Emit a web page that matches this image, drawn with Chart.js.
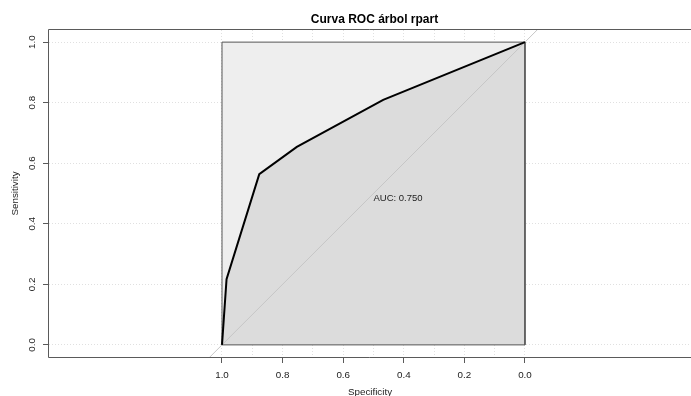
<!DOCTYPE html>
<html>
<head>
<meta charset="utf-8">
<script src="https://cdn.jsdelivr.net/npm/chart.js@4/dist/chart.umd.min.js"></script>
<style>
html,body{margin:0;padding:0;background:#fff;}
#wrap{width:691px;height:396px;}
</style>
</head>
<body>
<div id="wrap"><canvas id="c" width="691" height="396"></canvas></div>
<script>
// ---- data ----
const chartTitle = 'Curva ROC árbol rpart';
const xAxisTitle = 'Specificity';
const yAxisTitle = 'Sensitivity';
const aucText = 'AUC: 0.750';
const specificity = [1.0, 0.985, 0.877, 0.753, 0.468, 0.0];
const sensitivity = [0.0, 0.217, 0.564, 0.654, 0.809, 1.0];
const maxAucSpec = [1, 1, 0, 0, 1];
const maxAucSens = [0, 1, 1, 0, 0];
const identitySpec = [1.2, -0.2];
const identitySens = [-0.2, 1.2];
const xGridValues = [1.0, 0.9, 0.8, 0.7, 0.6, 0.5, 0.4, 0.3, 0.2, 0.1, 0.0];
const xTickValues = [1.0, 0.8, 0.6, 0.4, 0.2, 0.0];
const yTickValues = [0.0, 0.2, 0.4, 0.6, 0.8, 1.0];
const aucLabelAt = [0.5, 0.5];

const FONT = "'Liberation Sans', Arial, Helvetica, sans-serif";
const pts = (xs, ys) => xs.map((v, i) => ({x: v, y: ys[i]}));
const isLabelled = v => xTickValues.some(t => Math.abs(t - v) < 1e-6);

const extras = {
  id: 'extras',
  afterDraw(chart) {
    const {ctx, chartArea: a, scales: {x, y}} = chart;
    ctx.save();
    // frame (box)
    ctx.strokeStyle = '#5a5a5a';
    ctx.lineWidth = 1;
    ctx.setLineDash([]);
    ctx.beginPath();
    ctx.moveTo(a.left - 0.5, a.bottom + 0.5);
    ctx.lineTo(a.left - 0.5, a.top - 0.5);
    ctx.lineTo(a.right, a.top - 0.5);
    ctx.moveTo(a.left - 0.5, a.bottom + 0.5);
    ctx.lineTo(a.right, a.bottom + 0.5);
    ctx.stroke();
    // rotated y tick labels
    ctx.fillStyle = '#222';
    ctx.font = '9.8px ' + FONT;
    ctx.textAlign = 'center';
    ctx.textBaseline = 'middle';
    yTickValues.forEach(v => {
      const py = y.getPixelForValue(v);
      ctx.save();
      ctx.translate(32, py);
      ctx.rotate(-Math.PI / 2);
      ctx.fillText(v.toFixed(1), 0, 0);
      ctx.restore();
    });
    // AUC label
    ctx.font = '9.5px ' + FONT;
    ctx.textAlign = 'left';
    ctx.textBaseline = 'alphabetic';
    ctx.fillText(aucText, x.getPixelForValue(aucLabelAt[0]), y.getPixelForValue(aucLabelAt[1]) + 7.5);
    // title
    ctx.fillStyle = '#000';
    ctx.font = 'bold 12px ' + FONT;
    ctx.textAlign = 'center';
    ctx.fillText(chartTitle, 374.5, 23);
    ctx.restore();
  }
};

new Chart(document.getElementById('c'), {
  type: 'scatter',
  data: {
    datasets: [
      { // ROC curve
        data: pts(specificity, sensitivity),
        showLine: true, borderColor: '#000', borderWidth: 2, pointRadius: 0,
        fill: false, order: 0, tension: 0
      },
      { // identity line
        data: pts(identitySpec, identitySens),
        showLine: true, borderColor: '#c6c6c6', borderWidth: 1, pointRadius: 0,
        fill: false, order: 1
      },
      { // max AUC polygon border
        data: pts(maxAucSpec, maxAucSens),
        showLine: true, borderColor: '#555', borderWidth: 1, pointRadius: 0,
        fill: false, order: 2
      },
      { // AUC polygon
        data: pts(specificity, sensitivity),
        showLine: true, borderWidth: 0, borderColor: 'rgba(0,0,0,0)', pointRadius: 0,
        backgroundColor: '#dcdcdc', fill: {value: 0}, order: 3
      },
      { // max AUC polygon
        data: pts(maxAucSpec, maxAucSens),
        showLine: true, borderWidth: 0, borderColor: 'rgba(0,0,0,0)', pointRadius: 0,
        backgroundColor: '#eeeeee', fill: 'shape', order: 4
      }
    ]
  },
  options: {
    responsive: false,
    animation: false,
    devicePixelRatio: 1,
    layout: {padding: {top: 30, left: 0, right: 0, bottom: 0}},
    plugins: {
      legend: {display: false},
      tooltip: {enabled: false},
      title: {display: false},
      filler: {drawTime: 'beforeDatasetsDraw', propagate: false}
    },
    scales: {
      x: {
        type: 'linear', reverse: true, min: -0.548, max: 1.571,
        afterBuildTicks: s => { s.ticks = xGridValues.map(v => ({value: v})); },
        afterFit: s => { s.height = 39; },
        ticks: {
          autoSkip: false, maxRotation: 0, minRotation: 0, padding: 6,
          color: '#222', font: {family: FONT, size: 9.8},
          callback: v => isLabelled(v) ? v.toFixed(1) : ''
        },
        grid: {
          color: '#e0e0e0', lineWidth: 1, drawTicks: true, tickLength: 6,
          tickColor: ctx => (ctx.tick && isLabelled(ctx.tick.value)) ? '#5a5a5a' : 'rgba(0,0,0,0)',
          tickBorderDash: []
        },
        border: {display: false, dash: [1, 2]},
        title: {display: true, text: xAxisTitle, color: '#222', font: {family: FONT, size: 9.8}, padding: {top: 0, bottom: -2}}
      },
      y: {
        type: 'linear', min: -0.04, max: 1.04,
        afterBuildTicks: s => { s.ticks = yTickValues.map(v => ({value: v})); },
        afterFit: s => { s.width = 49; },
        ticks: {display: false},
        grid: {
          color: '#e0e0e0', lineWidth: 1, drawTicks: true, tickLength: 6,
          tickColor: '#5a5a5a', tickBorderDash: []
        },
        border: {display: false, dash: [1, 2]},
        title: {display: true, text: yAxisTitle, color: '#222', font: {family: FONT, size: 9.8}, padding: {top: 9, bottom: 0}}
      }
    }
  },
  plugins: [extras]
});
</script>
</body>
</html>
